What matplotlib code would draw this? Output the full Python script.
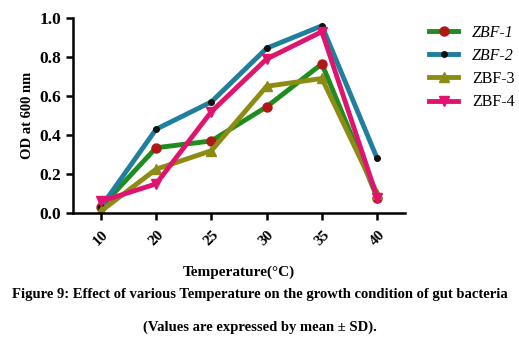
import matplotlib.pyplot as plt
import numpy as np

temps = ['10', '20', '25', '30', '35', '40']
zbf1 = [0.03, 0.335, 0.37, 0.545, 0.765, 0.08]
zbf2 = [0.03, 0.43, 0.57, 0.845, 0.96, 0.28]
zbf3 = [0.01, 0.225, 0.32, 0.65, 0.69, 0.10]
zbf4 = [0.06, 0.15, 0.52, 0.79, 0.93, 0.08]

plt.rcParams['font.family'] = ['Liberation Serif', 'DejaVu Serif']

fig = plt.figure(figsize=(5.19, 3.46), dpi=100)
ax = fig.add_axes([0.141, 0.384, 0.639, 0.564])

x = np.arange(len(temps))
ax.plot(x, zbf1, color='#1e8c1e', lw=3.5, marker='o', ms=6.5, mfc='#b01818', mec='#b01818', label='ZBF-1')
ax.plot(x, zbf2, color='#1f7f9c', lw=3.5, marker='o', ms=4, mfc='#111111', mec='#111111', label='ZBF-2')
ax.plot(x, zbf3, color='#8c8c14', lw=3.5, marker='^', ms=6.5, mfc='#8c8c14', mec='#8c8c14', label='ZBF-3')
ax.plot(x, zbf4, color='#e0146e', lw=3.5, marker='v', ms=6.5, mfc='#e0146e', mec='#e0146e', label='ZBF-4')

ax.set_xlim(-0.5, 5.5)
ax.set_ylim(0, 1.0)
ax.set_xticks(x)
ax.set_xticklabels(temps, rotation=45, fontweight='bold', fontsize=11)
ax.set_yticks([0.0, 0.2, 0.4, 0.6, 0.8, 1.0])
ax.set_yticklabels(['0.0', '0.2', '0.4', '0.6', '0.8', '1.0'], fontweight='bold', fontsize=12.5)
ax.spines['top'].set_visible(False)
ax.spines['right'].set_visible(False)
ax.spines['left'].set_linewidth(1.8)
ax.spines['bottom'].set_linewidth(1.8)
ax.tick_params(width=1.8, length=5)
ax.tick_params(axis='x', pad=6)
ax.set_ylabel('OD at 600 nm', fontweight='bold', fontsize=10.5)
ax.set_xlabel('Temperature(°C)', fontweight='bold', fontsize=11, labelpad=12)

leg = ax.legend(loc='upper left', bbox_to_anchor=(1.03, 1.04), frameon=False, fontsize=11.5,
                handlelength=1.8, handletextpad=0.9, labelspacing=0.45)
for t in leg.get_texts()[:2]:
    t.set_fontstyle('italic')

fig.text(0.5, 0.14, 'Figure 9: Effect of various Temperature on the growth condition of gut bacteria',
         ha='center', fontweight='bold', fontsize=10.5)
fig.text(0.5, 0.045, '(Values are expressed by mean ± SD).', ha='center', fontweight='bold', fontsize=10.5)

fig.savefig('out.png')
